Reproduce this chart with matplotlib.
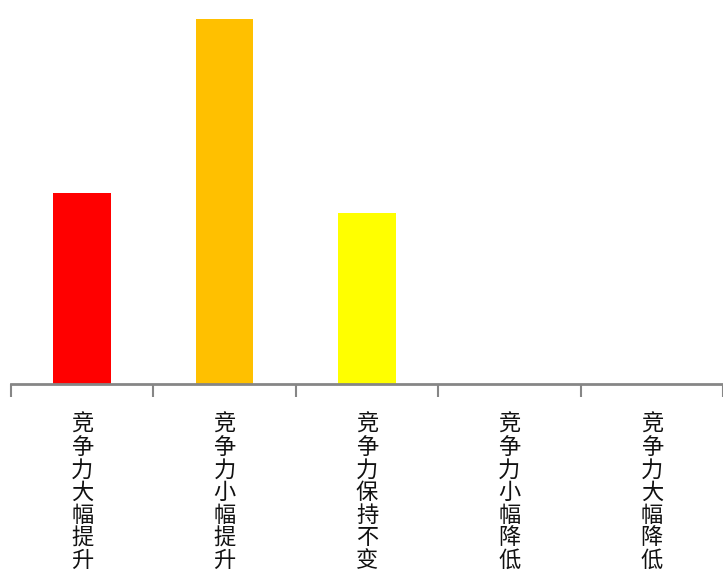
import matplotlib
matplotlib.use("Agg")
import matplotlib.pyplot as plt

plt.rcParams['font.family'] = ['Noto Sans CJK SC', 'DejaVu Sans']

categories = ["竞争力大幅提升", "竞争力小幅提升", "竞争力保持不变", "竞争力小幅降低", "竞争力大幅降低"]
values = [11, 21, 9.85, 0, 0]
colors = ["#ff0000", "#ffc000", "#ffff00", "#ffffff", "#ffffff"]

fig = plt.figure(figsize=(7.23, 5.74), dpi=100)
ax = fig.add_axes([11 / 723, 190 / 574, 712 / 723, 384 / 574])

x = list(range(len(categories)))
ax.bar(x, values, width=0.405, color=colors, zorder=2)
ax.set_xlim(-0.5, len(categories) - 0.5)
ax.set_ylim(0, 22.1)

for s in ("top", "right", "left"):
    ax.spines[s].set_visible(False)
ax.spines["bottom"].set_color("#868686")
ax.spines["bottom"].set_linewidth(2)
ax.set_yticks([])

# tick marks sit on the category boundaries
ax.set_xticks([i - 0.5 for i in range(len(categories) + 1)])
ax.set_xticklabels([])
ax.tick_params(axis="x", length=9, width=1.5, color="#868686", direction="out")

# vertical, character-per-line category labels
for i, name in enumerate(categories):
    ax.text(i, -0.076, "\n".join(name), transform=ax.get_xaxis_transform(),
            ha="center", va="top", fontsize=16, linespacing=0.98,
            color="#111111", clip_on=False)

fig.savefig("out.png", dpi=100)
